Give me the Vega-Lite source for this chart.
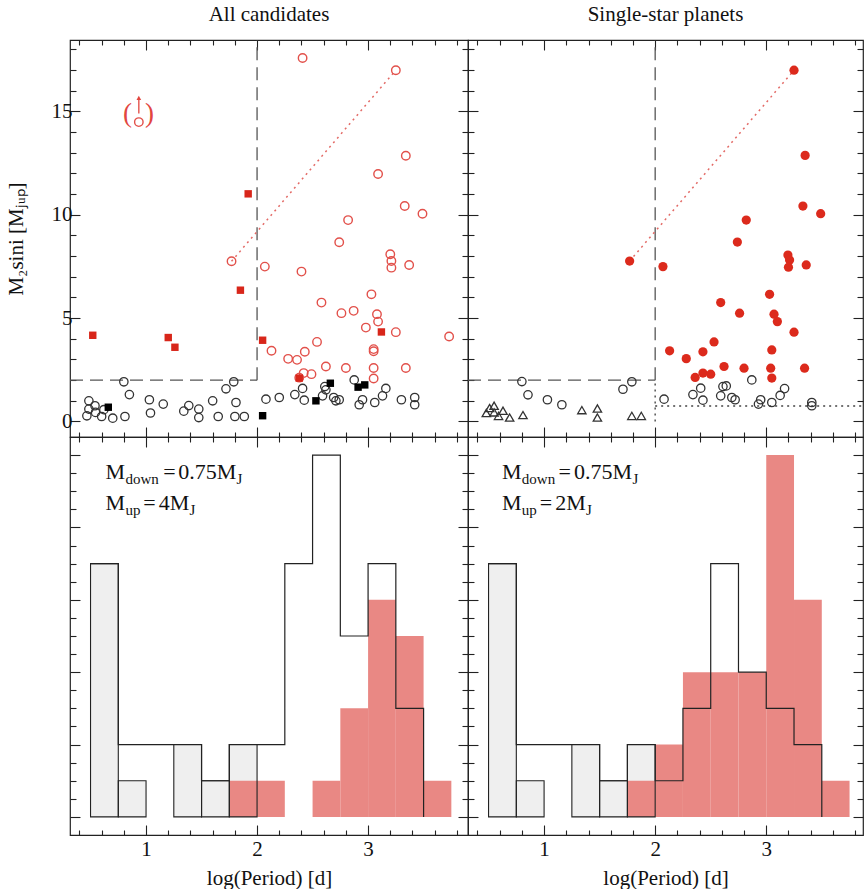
{
  "$schema": "https://vega.github.io/schema/vega-lite/v6.json",
  "padding": {"left": 4, "top": 3, "right": 0, "bottom": 0},
  "bounds": "flush",
  "spacing": 0,
  "columns": 2,
  "config": {
    "font": "Liberation Serif",
    "view": {"stroke": "#222", "strokeWidth": 1.2},
    "axis": {"domain": false, "grid": false, "tickColor": "#222", "tickWidth": 1.1, "labelFont": "Liberation Serif", "labelFontSize": 21, "labelColor": "#111", "titleFont": "Liberation Serif", "titleFontSize": 21, "titleFontWeight": "normal", "titleColor": "#111"},
    "title": {"font": "Liberation Serif", "fontSize": 21, "fontWeight": "normal", "color": "#111"}
  },
  "datasets": {
    "tl": [
      {"x": 2.41, "m": 17.58, "c": "ro"}, {"x": 3.25, "m": 16.99, "c": "ro"}, {"x": 0.935, "m": 14.48, "c": "ro"}, {"x": 3.34, "m": 12.85, "c": "ro"},
      {"x": 3.09, "m": 11.97, "c": "ro"}, {"x": 3.33, "m": 10.42, "c": "ro"}, {"x": 3.49, "m": 10.05, "c": "ro"}, {"x": 2.82, "m": 9.74, "c": "ro"},
      {"x": 2.74, "m": 8.67, "c": "ro"}, {"x": 1.77, "m": 7.75, "c": "ro"}, {"x": 3.2, "m": 8.09, "c": "ro"}, {"x": 3.21, "m": 7.76, "c": "ro"},
      {"x": 3.21, "m": 7.44, "c": "ro"}, {"x": 3.37, "m": 7.57, "c": "ro"}, {"x": 2.07, "m": 7.49, "c": "ro"}, {"x": 2.4, "m": 7.25, "c": "ro"},
      {"x": 2.58, "m": 5.75, "c": "ro"}, {"x": 3.03, "m": 6.15, "c": "ro"}, {"x": 2.76, "m": 5.24, "c": "ro"}, {"x": 2.87, "m": 5.35, "c": "ro"},
      {"x": 3.08, "m": 5.19, "c": "ro"}, {"x": 3.09, "m": 4.83, "c": "ro"}, {"x": 2.98, "m": 4.54, "c": "ro"}, {"x": 3.25, "m": 4.32, "c": "ro"},
      {"x": 3.73, "m": 4.11, "c": "ro"}, {"x": 2.54, "m": 3.85, "c": "ro"}, {"x": 2.13, "m": 3.42, "c": "ro"}, {"x": 2.43, "m": 3.37, "c": "ro"},
      {"x": 3.05, "m": 3.5, "c": "ro"}, {"x": 3.05, "m": 3.4, "c": "ro"}, {"x": 2.28, "m": 3.03, "c": "ro"}, {"x": 2.36, "m": 2.98, "c": "ro"},
      {"x": 2.42, "m": 2.34, "c": "ro"}, {"x": 2.49, "m": 2.29, "c": "ro"}, {"x": 2.62, "m": 2.66, "c": "ro"}, {"x": 2.8, "m": 2.59, "c": "ro"},
      {"x": 3.05, "m": 2.59, "c": "ro"}, {"x": 3.05, "m": 2.08, "c": "ro"}, {"x": 3.34, "m": 2.59, "c": "ro"}, {"x": 2.38, "m": 2.12, "c": "ro"},
      {"x": 0.52, "m": 4.17, "c": "rs"}, {"x": 1.2, "m": 4.06, "c": "rs"}, {"x": 1.26, "m": 3.59, "c": "rs"}, {"x": 1.92, "m": 11.01, "c": "rs"},
      {"x": 1.85, "m": 6.35, "c": "rs"}, {"x": 2.05, "m": 3.93, "c": "rs"}, {"x": 3.12, "m": 4.33, "c": "rs"}, {"x": 2.38, "m": 2.1, "c": "rs"},
      {"x": 0.66, "m": 0.69, "c": "bs"}, {"x": 2.05, "m": 0.28, "c": "bs"}, {"x": 2.53, "m": 1.0, "c": "bs"}, {"x": 2.66, "m": 1.85, "c": "bs"},
      {"x": 2.91, "m": 1.66, "c": "bs"}, {"x": 2.97, "m": 1.77, "c": "bs"},
      {"x": 0.485, "m": 1.0, "c": "bo"}, {"x": 0.467, "m": 0.275, "c": "bo"}, {"x": 0.485, "m": 0.6, "c": "bo"}, {"x": 0.54, "m": 0.76, "c": "bo"},
      {"x": 0.545, "m": 0.44, "c": "bo"}, {"x": 0.6, "m": 0.24, "c": "bo"}, {"x": 0.62, "m": 0.57, "c": "bo"}, {"x": 0.7, "m": 0.16, "c": "bo"},
      {"x": 0.8, "m": 1.92, "c": "bo"}, {"x": 0.81, "m": 0.24, "c": "bo"}, {"x": 0.85, "m": 1.3, "c": "bo"}, {"x": 1.03, "m": 1.05, "c": "bo"},
      {"x": 1.04, "m": 0.41, "c": "bo"}, {"x": 1.155, "m": 0.84, "c": "bo"}, {"x": 1.34, "m": 0.5, "c": "bo"}, {"x": 1.385, "m": 0.77, "c": "bo"},
      {"x": 1.475, "m": 0.6, "c": "bo"}, {"x": 1.475, "m": 0.19, "c": "bo"}, {"x": 1.6, "m": 1.0, "c": "bo"}, {"x": 1.65, "m": 0.24, "c": "bo"},
      {"x": 1.72, "m": 1.58, "c": "bo"}, {"x": 1.79, "m": 1.92, "c": "bo"}, {"x": 1.8, "m": 0.24, "c": "bo"}, {"x": 1.81, "m": 0.92, "c": "bo"},
      {"x": 1.885, "m": 0.24, "c": "bo"}, {"x": 2.08, "m": 1.08, "c": "bo"}, {"x": 2.2, "m": 1.16, "c": "bo"}, {"x": 2.34, "m": 1.3, "c": "bo"},
      {"x": 2.41, "m": 1.6, "c": "bo"}, {"x": 2.425, "m": 1.03, "c": "bo"}, {"x": 2.59, "m": 1.24, "c": "bo"}, {"x": 2.61, "m": 1.69, "c": "bo"},
      {"x": 2.62, "m": 1.53, "c": "bo"}, {"x": 2.69, "m": 1.16, "c": "bo"}, {"x": 2.71, "m": 1.0, "c": "bo"}, {"x": 2.74, "m": 1.05, "c": "bo"},
      {"x": 2.875, "m": 2.01, "c": "bo"}, {"x": 2.92, "m": 0.81, "c": "bo"}, {"x": 2.95, "m": 1.05, "c": "bo"}, {"x": 3.06, "m": 0.92, "c": "bo"},
      {"x": 3.13, "m": 1.24, "c": "bo"}, {"x": 3.16, "m": 1.6, "c": "bo"}, {"x": 3.3, "m": 1.05, "c": "bo"}, {"x": 3.42, "m": 1.16, "c": "bo"},
      {"x": 3.42, "m": 0.81, "c": "bo"}
    ],
    "tr": [
      {"x": 3.25, "m": 16.99, "c": "rf"}, {"x": 3.35, "m": 12.87, "c": "rf"}, {"x": 3.33, "m": 10.42, "c": "rf"}, {"x": 3.49, "m": 10.05, "c": "rf"},
      {"x": 2.82, "m": 9.74, "c": "rf"}, {"x": 2.74, "m": 8.68, "c": "rf"}, {"x": 1.77, "m": 7.76, "c": "rf"}, {"x": 2.07, "m": 7.49, "c": "rf"},
      {"x": 3.195, "m": 8.05, "c": "rf"}, {"x": 3.21, "m": 7.81, "c": "rf"}, {"x": 3.2, "m": 7.46, "c": "rf"}, {"x": 3.36, "m": 7.57, "c": "rf"},
      {"x": 2.59, "m": 5.75, "c": "rf"}, {"x": 3.03, "m": 6.15, "c": "rf"}, {"x": 2.76, "m": 5.24, "c": "rf"}, {"x": 3.07, "m": 5.19, "c": "rf"},
      {"x": 3.1, "m": 4.83, "c": "rf"}, {"x": 3.25, "m": 4.32, "c": "rf"}, {"x": 2.53, "m": 3.85, "c": "rf"}, {"x": 2.13, "m": 3.42, "c": "rf"},
      {"x": 2.43, "m": 3.37, "c": "rf"}, {"x": 3.05, "m": 3.46, "c": "rf"}, {"x": 2.28, "m": 3.04, "c": "rf"}, {"x": 2.62, "m": 2.66, "c": "rf"},
      {"x": 2.8, "m": 2.58, "c": "rf"}, {"x": 3.04, "m": 2.58, "c": "rf"}, {"x": 3.345, "m": 2.58, "c": "rf"}, {"x": 2.36, "m": 2.13, "c": "rf"},
      {"x": 2.43, "m": 2.34, "c": "rf"}, {"x": 2.5, "m": 2.29, "c": "rf"}, {"x": 3.05, "m": 2.1, "c": "rf"},
      {"x": 0.8, "m": 1.93, "c": "bo"}, {"x": 0.855, "m": 1.29, "c": "bo"}, {"x": 1.03, "m": 1.05, "c": "bo"}, {"x": 1.16, "m": 0.81, "c": "bo"},
      {"x": 1.71, "m": 1.56, "c": "bo"}, {"x": 1.79, "m": 1.92, "c": "bo"}, {"x": 2.08, "m": 1.08, "c": "bo"}, {"x": 2.34, "m": 1.3, "c": "bo"},
      {"x": 2.41, "m": 1.61, "c": "bo"}, {"x": 2.43, "m": 1.03, "c": "bo"}, {"x": 2.59, "m": 1.24, "c": "bo"}, {"x": 2.61, "m": 1.69, "c": "bo"},
      {"x": 2.64, "m": 1.72, "c": "bo"}, {"x": 2.69, "m": 1.16, "c": "bo"}, {"x": 2.72, "m": 1.05, "c": "bo"}, {"x": 2.87, "m": 2.01, "c": "bo"},
      {"x": 2.93, "m": 0.84, "c": "bo"}, {"x": 2.95, "m": 1.05, "c": "bo"}, {"x": 3.05, "m": 0.92, "c": "bo"}, {"x": 3.125, "m": 1.26, "c": "bo"},
      {"x": 3.165, "m": 1.59, "c": "bo"}, {"x": 3.41, "m": 0.92, "c": "bo"}, {"x": 3.41, "m": 0.76, "c": "bo"},
      {"x": 0.48, "m": 0.41, "c": "bt"}, {"x": 0.51, "m": 0.65, "c": "bt"}, {"x": 0.55, "m": 0.76, "c": "bt"}, {"x": 0.55, "m": 0.44, "c": "bt"},
      {"x": 0.59, "m": 0.27, "c": "bt"}, {"x": 0.63, "m": 0.52, "c": "bt"}, {"x": 0.69, "m": 0.19, "c": "bt"}, {"x": 0.81, "m": 0.31, "c": "bt"},
      {"x": 1.34, "m": 0.55, "c": "bt"}, {"x": 1.48, "m": 0.63, "c": "bt"}, {"x": 1.48, "m": 0.19, "c": "bt"}, {"x": 1.79, "m": 0.27, "c": "bt"},
      {"x": 1.875, "m": 0.27, "c": "bt"}
    ],
    "hl": [
      {"b0": 0.5, "b1": 0.75, "tot": 7, "dot": 7, "red": 0},
      {"b0": 0.75, "b1": 1.0, "tot": 2, "dot": 1, "red": 0},
      {"b0": 1.0, "b1": 1.25, "tot": 2, "dot": 0, "red": 0},
      {"b0": 1.25, "b1": 1.5, "tot": 2, "dot": 2, "red": 0},
      {"b0": 1.5, "b1": 1.75, "tot": 1, "dot": 1, "red": 0},
      {"b0": 1.75, "b1": 2.0, "tot": 2, "dot": 2, "red": 1},
      {"b0": 2.0, "b1": 2.25, "tot": 2, "dot": 0, "red": 1},
      {"b0": 2.25, "b1": 2.5, "tot": 7, "dot": 0, "red": 0},
      {"b0": 2.5, "b1": 2.75, "tot": 10, "dot": 0, "red": 1},
      {"b0": 2.75, "b1": 3.0, "tot": 5, "dot": 0, "red": 3},
      {"b0": 3.0, "b1": 3.25, "tot": 7, "dot": 0, "red": 6},
      {"b0": 3.25, "b1": 3.5, "tot": 3, "dot": 0, "red": 5},
      {"b0": 3.5, "b1": 3.75, "tot": 0, "dot": 0, "red": 1}
    ],
    "hr": [
      {"b0": 0.5, "b1": 0.75, "tot": 7, "dot": 7, "red": 0},
      {"b0": 0.75, "b1": 1.0, "tot": 2, "dot": 1, "red": 0},
      {"b0": 1.0, "b1": 1.25, "tot": 2, "dot": 0, "red": 0},
      {"b0": 1.25, "b1": 1.5, "tot": 2, "dot": 2, "red": 0},
      {"b0": 1.5, "b1": 1.75, "tot": 1, "dot": 1, "red": 0},
      {"b0": 1.75, "b1": 2.0, "tot": 2, "dot": 2, "red": 1},
      {"b0": 2.0, "b1": 2.25, "tot": 1, "dot": 0, "red": 2},
      {"b0": 2.25, "b1": 2.5, "tot": 3, "dot": 0, "red": 4},
      {"b0": 2.5, "b1": 2.75, "tot": 7, "dot": 0, "red": 4},
      {"b0": 2.75, "b1": 3.0, "tot": 4, "dot": 0, "red": 4},
      {"b0": 3.0, "b1": 3.25, "tot": 3, "dot": 0, "red": 10},
      {"b0": 3.25, "b1": 3.5, "tot": 2, "dot": 0, "red": 6},
      {"b0": 3.5, "b1": 3.75, "tot": 0, "dot": 0, "red": 1}
    ]
  },
  "concat": [
    {
      "width": 398,
      "height": 397,
      "title": {"text": "All candidates", "offset": 14},
      "layer": [
        {
          "data": {"values": [{"x": 0.315, "x2": 2, "y": 2}]},
          "mark": {"type": "rule", "strokeDash": [13, 7], "color": "#555", "strokeWidth": 1.3},
          "encoding": {
            "x": {"field": "x", "type": "quantitative", "scale": {"domain": [0.315, 3.9], "nice": false, "zero": false},
              "axis": {"orient": "bottom", "values": [0.4,0.6,0.8,1,1.2,1.4,1.6,1.8,2,2.2,2.4,2.6,2.8,3,3.2,3.4,3.6,3.8], "labels": false, "title": null,
                "tickSize": {"condition": {"test": "abs(datum.value - round(datum.value)) < 0.01", "value": -10}, "value": -5}}},
            "x2": {"field": "x2"},
            "y": {"field": "y", "type": "quantitative", "scale": {"domain": [-0.75, 18.45], "nice": false, "zero": false},
              "axis": {"orient": "left", "values": [0,1,2,3,4,5,6,7,8,9,10,11,12,13,14,15,16,17,18], "title": "M₂sini [Mⱼᵤₚ]",
                "labelExpr": "datum.value % 5 === 0 ? datum.label : ''", "labelPadding": 8, "titlePadding": 25,
                "tickSize": {"condition": {"test": "datum.value % 5 === 0", "value": -10}, "value": -6}}}
          }
        },
        {
          "data": {"values": [{"x": 2, "y": 2, "y2": 18.45}]},
          "mark": {"type": "rule", "strokeDash": [13, 7], "color": "#555", "strokeWidth": 1.3},
          "encoding": {
            "x": {"field": "x", "type": "quantitative",
              "axis": {"orient": "top", "values": [0.4,0.6,0.8,1,1.2,1.4,1.6,1.8,2,2.2,2.4,2.6,2.8,3,3.2,3.4,3.6,3.8], "labels": false, "title": null,
                "tickSize": {"condition": {"test": "abs(datum.value - round(datum.value)) < 0.01", "value": -10}, "value": -5}}},
            "y": {"field": "y", "type": "quantitative",
              "axis": {"orient": "right", "values": [0,1,2,3,4,5,6,7,8,9,10,11,12,13,14,15,16,17,18], "labels": false, "title": null,
                "tickSize": {"condition": {"test": "datum.value % 5 === 0", "value": -10}, "value": -6}}},
            "y2": {"field": "y2"}
          }
        },
        {
          "data": {"values": [{"x": 1.77, "y": 7.75, "x2": 3.25, "y2": 16.99}]},
          "mark": {"type": "rule", "strokeDash": [2, 4], "color": "#e36a66", "strokeWidth": 1.5},
          "encoding": {"x": {"field": "x", "type": "quantitative", "axis": null}, "x2": {"field": "x2"}, "y": {"field": "y", "type": "quantitative", "axis": null}, "y2": {"field": "y2"}}
        },
        {
          "data": {"values": [{"x": 0.935, "y": 14.9, "y2": 15.6}]},
          "mark": {"type": "rule", "color": "#e2463f", "strokeWidth": 1.3},
          "encoding": {"x": {"field": "x", "type": "quantitative", "axis": null}, "y": {"field": "y", "type": "quantitative", "axis": null}, "y2": {"field": "y2"}}
        },
        {
          "data": {"values": [{"x": 0.935, "y": 15.65}]},
          "mark": {"type": "point", "shape": "triangle-up", "filled": true, "color": "#e2463f", "size": 22, "opacity": 1},
          "encoding": {"x": {"field": "x", "type": "quantitative", "axis": null}, "y": {"field": "y", "type": "quantitative", "axis": null}}
        },
        {
          "data": {"values": [{"x": 0.834, "y": 14.86, "t": "("}, {"x": 1.03, "y": 14.86, "t": ")"}]},
          "mark": {"type": "text", "fontSize": 27, "color": "#e2463f", "baseline": "middle", "align": "center", "font": "Liberation Serif"},
          "encoding": {"x": {"field": "x", "type": "quantitative", "axis": null}, "y": {"field": "y", "type": "quantitative", "axis": null}, "text": {"field": "t"}}
        },
        {
          "data": {"name": "tl"},
          "transform": [{"filter": "datum.c === 'bo'"}],
          "mark": {"type": "point", "shape": "circle", "filled": false, "stroke": "#333", "strokeWidth": 1.3, "size": 70, "opacity": 1},
          "encoding": {"x": {"field": "x", "type": "quantitative", "axis": null}, "y": {"field": "m", "type": "quantitative", "axis": null}}
        },
        {
          "data": {"name": "tl"},
          "transform": [{"filter": "datum.c === 'ro'"}],
          "mark": {"type": "point", "shape": "circle", "filled": false, "stroke": "#e2504a", "strokeWidth": 1.4, "size": 72, "opacity": 1},
          "encoding": {"x": {"field": "x", "type": "quantitative", "axis": null}, "y": {"field": "m", "type": "quantitative", "axis": null}}
        },
        {
          "data": {"name": "tl"},
          "transform": [{"filter": "datum.c === 'bs'"}],
          "mark": {"type": "point", "shape": "square", "filled": true, "color": "#000", "size": 55, "opacity": 1},
          "encoding": {"x": {"field": "x", "type": "quantitative", "axis": null}, "y": {"field": "m", "type": "quantitative", "axis": null}}
        },
        {
          "data": {"name": "tl"},
          "transform": [{"filter": "datum.c === 'rs'"}],
          "mark": {"type": "point", "shape": "square", "filled": true, "color": "#d8261a", "size": 55, "opacity": 1},
          "encoding": {"x": {"field": "x", "type": "quantitative", "axis": null}, "y": {"field": "m", "type": "quantitative", "axis": null}}
        }
      ]
    },
    {
      "width": 395,
      "height": 397,
      "title": {"text": "Single-star planets", "offset": 14},
      "layer": [
        {
          "data": {"values": [{"x": 0.315, "x2": 2, "y": 2}]},
          "mark": {"type": "rule", "strokeDash": [13, 7], "color": "#555", "strokeWidth": 1.3},
          "encoding": {
            "x": {"field": "x", "type": "quantitative", "scale": {"domain": [0.315, 3.871], "nice": false, "zero": false},
              "axis": {"orient": "bottom", "values": [0.4,0.6,0.8,1,1.2,1.4,1.6,1.8,2,2.2,2.4,2.6,2.8,3,3.2,3.4,3.6,3.8], "labels": false, "title": null,
                "tickSize": {"condition": {"test": "abs(datum.value - round(datum.value)) < 0.01", "value": -10}, "value": -5}}},
            "x2": {"field": "x2"},
            "y": {"field": "y", "type": "quantitative", "scale": {"domain": [-0.75, 18.45], "nice": false, "zero": false},
              "axis": {"orient": "left", "values": [0,1,2,3,4,5,6,7,8,9,10,11,12,13,14,15,16,17,18], "labels": false, "title": null,
                "tickSize": {"condition": {"test": "datum.value % 5 === 0", "value": -10}, "value": -6}}}
          }
        },
        {
          "data": {"values": [{"x": 2, "y": 2, "y2": 18.45}]},
          "mark": {"type": "rule", "strokeDash": [13, 7], "color": "#555", "strokeWidth": 1.3},
          "encoding": {
            "x": {"field": "x", "type": "quantitative",
              "axis": {"orient": "top", "values": [0.4,0.6,0.8,1,1.2,1.4,1.6,1.8,2,2.2,2.4,2.6,2.8,3,3.2,3.4,3.6,3.8], "labels": false, "title": null,
                "tickSize": {"condition": {"test": "abs(datum.value - round(datum.value)) < 0.01", "value": -10}, "value": -5}}},
            "y": {"field": "y", "type": "quantitative",
              "axis": {"orient": "right", "values": [0,1,2,3,4,5,6,7,8,9,10,11,12,13,14,15,16,17,18], "labels": false, "title": null,
                "tickSize": {"condition": {"test": "datum.value % 5 === 0", "value": -10}, "value": -6}}},
            "y2": {"field": "y2"}
          }
        },
        {
          "data": {"values": [{"x": 2, "y": 0, "y2": 1.9}]},
          "mark": {"type": "rule", "strokeDash": [2, 4], "color": "#555", "strokeWidth": 1.5},
          "encoding": {"x": {"field": "x", "type": "quantitative", "axis": null}, "y": {"field": "y", "type": "quantitative", "axis": null}, "y2": {"field": "y2"}}
        },
        {
          "data": {"values": [{"x": 2, "y": 0.75, "x2": 3.871}]},
          "mark": {"type": "rule", "strokeDash": [2, 4], "color": "#444", "strokeWidth": 1.6},
          "encoding": {"x": {"field": "x", "type": "quantitative", "axis": null}, "x2": {"field": "x2"}, "y": {"field": "y", "type": "quantitative", "axis": null}}
        },
        {
          "data": {"values": [{"x": 1.77, "y": 7.76, "x2": 3.25, "y2": 16.99}]},
          "mark": {"type": "rule", "strokeDash": [2, 4], "color": "#e36a66", "strokeWidth": 1.5},
          "encoding": {"x": {"field": "x", "type": "quantitative", "axis": null}, "x2": {"field": "x2"}, "y": {"field": "y", "type": "quantitative", "axis": null}, "y2": {"field": "y2"}}
        },
        {
          "data": {"name": "tr"},
          "transform": [{"filter": "datum.c === 'bo'"}],
          "mark": {"type": "point", "shape": "circle", "filled": false, "stroke": "#333", "strokeWidth": 1.3, "size": 70, "opacity": 1},
          "encoding": {"x": {"field": "x", "type": "quantitative", "axis": null}, "y": {"field": "m", "type": "quantitative", "axis": null}}
        },
        {
          "data": {"name": "tr"},
          "transform": [{"filter": "datum.c === 'bt'"}],
          "mark": {"type": "point", "shape": "triangle-up", "filled": false, "stroke": "#333", "strokeWidth": 1.3, "size": 70, "opacity": 1},
          "encoding": {"x": {"field": "x", "type": "quantitative", "axis": null}, "y": {"field": "m", "type": "quantitative", "axis": null}}
        },
        {
          "data": {"name": "tr"},
          "transform": [{"filter": "datum.c === 'rf'"}],
          "mark": {"type": "point", "shape": "circle", "filled": true, "color": "#dc2a1c", "size": 85, "opacity": 1},
          "encoding": {"x": {"field": "x", "type": "quantitative", "axis": null}, "y": {"field": "m", "type": "quantitative", "axis": null}}
        }
      ]
    },
    {
      "width": 398,
      "height": 398,
      "layer": [
        {
          "data": {"name": "hl"},
          "transform": [{"filter": "datum.dot > 0"}],
          "mark": {"type": "rect", "fill": "#efefef"},
          "encoding": {
            "x": {"field": "b0", "type": "quantitative", "scale": {"domain": [0.315, 3.9], "nice": false, "zero": false},
              "axis": {"orient": "bottom", "values": [0.4,0.6,0.8,1,1.2,1.4,1.6,1.8,2,2.2,2.4,2.6,2.8,3,3.2,3.4,3.6,3.8], "title": "log(Period) [d]",
                "labelExpr": "abs(datum.value - round(datum.value)) < 0.01 ? '' + round(datum.value) : ''", "labelPadding": 13, "titlePadding": 8,
                "tickSize": {"condition": {"test": "abs(datum.value - round(datum.value)) < 0.01", "value": -10}, "value": -5}}},
            "x2": {"field": "b1"},
            "y": {"field": "dot", "type": "quantitative", "scale": {"domain": [-0.5, 10.5], "nice": false, "zero": false},
              "axis": {"orient": "left", "values": [0,0.5,1,1.5,2,2.5,3,3.5,4,4.5,5,5.5,6,6.5,7,7.5,8,8.5,9,9.5,10], "labels": false, "title": null,
                "tickSize": {"condition": {"test": "datum.value % 2 === 0", "value": -10}, "value": -6}}},
            "y2": {"datum": 0}
          }
        },
        {
          "data": {"name": "hl"},
          "transform": [{"filter": "datum.red > 0"}],
          "mark": {"type": "rect", "fill": "#e98884"},
          "encoding": {"x": {"field": "b0", "type": "quantitative", "axis": null}, "x2": {"field": "b1"}, "y": {"field": "red", "type": "quantitative", "axis": null}, "y2": {"datum": 0}}
        },
        {
          "data": {"name": "hl"},
          "transform": [{"filter": "datum.dot > 0"}],
          "mark": {"type": "rect", "fill": "transparent", "stroke": "#222", "strokeWidth": 1.1},
          "encoding": {"x": {"field": "b0", "type": "quantitative", "axis": null}, "x2": {"field": "b1"}, "y": {"field": "dot", "type": "quantitative", "axis": null}, "y2": {"datum": 0}}
        },
        {
          "data": {"name": "hl"},
          "mark": {"type": "line", "interpolate": "step-after", "color": "#222", "strokeWidth": 1.2},
          "encoding": {
            "x": {"field": "b0", "type": "quantitative",
              "axis": {"orient": "top", "values": [0.4,0.6,0.8,1,1.2,1.4,1.6,1.8,2,2.2,2.4,2.6,2.8,3,3.2,3.4,3.6,3.8], "labels": false, "title": null,
                "tickSize": {"condition": {"test": "abs(datum.value - round(datum.value)) < 0.01", "value": -10}, "value": -5}}},
            "y": {"field": "tot", "type": "quantitative",
              "axis": {"orient": "right", "values": [0,0.5,1,1.5,2,2.5,3,3.5,4,4.5,5,5.5,6,6.5,7,7.5,8,8.5,9,9.5,10], "labels": false, "title": null,
                "tickSize": {"condition": {"test": "datum.value % 2 === 0", "value": -10}, "value": -6}}}
          }
        },
        {
          "mark": {"type": "rule", "color": "#222", "strokeWidth": 1.2},
          "encoding": {"y": {"datum": 0, "type": "quantitative", "axis": null}}
        },
        {
          "data": {"values": [{"x": 0.635, "y": 9.34, "t": "M"}, {"x": 1.155, "y": 9.34, "t": "="}, {"x": 1.29, "y": 9.34, "t": "0.75M"},
                              {"x": 0.635, "y": 8.48, "t": "M"}, {"x": 0.975, "y": 8.48, "t": "="}, {"x": 1.114, "y": 8.48, "t": "4M"}]},
          "mark": {"type": "text", "fontSize": 22, "align": "left", "baseline": "alphabetic", "color": "#111", "font": "Liberation Serif"},
          "encoding": {"x": {"field": "x", "type": "quantitative", "axis": null}, "y": {"field": "y", "type": "quantitative", "axis": null}, "text": {"field": "t"}}
        },
        {
          "data": {"values": [{"x": 0.815, "y": 9.34, "t": "down"}, {"x": 1.815, "y": 9.34, "t": "J"},
                              {"x": 0.815, "y": 8.48, "t": "up"}, {"x": 1.392, "y": 8.48, "t": "J"}]},
          "mark": {"type": "text", "fontSize": 15, "align": "left", "baseline": "alphabetic", "dy": 5, "color": "#111", "font": "Liberation Serif"},
          "encoding": {"x": {"field": "x", "type": "quantitative", "axis": null}, "y": {"field": "y", "type": "quantitative", "axis": null}, "text": {"field": "t"}}
        }
      ]
    },
    {
      "width": 395,
      "height": 398,
      "layer": [
        {
          "data": {"name": "hr"},
          "transform": [{"filter": "datum.dot > 0"}],
          "mark": {"type": "rect", "fill": "#efefef"},
          "encoding": {
            "x": {"field": "b0", "type": "quantitative", "scale": {"domain": [0.315, 3.871], "nice": false, "zero": false},
              "axis": {"orient": "bottom", "values": [0.4,0.6,0.8,1,1.2,1.4,1.6,1.8,2,2.2,2.4,2.6,2.8,3,3.2,3.4,3.6,3.8], "title": "log(Period) [d]",
                "labelExpr": "abs(datum.value - round(datum.value)) < 0.01 ? '' + round(datum.value) : ''", "labelPadding": 13, "titlePadding": 8,
                "tickSize": {"condition": {"test": "abs(datum.value - round(datum.value)) < 0.01", "value": -10}, "value": -5}}},
            "x2": {"field": "b1"},
            "y": {"field": "dot", "type": "quantitative", "scale": {"domain": [-0.5, 10.5], "nice": false, "zero": false},
              "axis": {"orient": "left", "values": [0,0.5,1,1.5,2,2.5,3,3.5,4,4.5,5,5.5,6,6.5,7,7.5,8,8.5,9,9.5,10], "labels": false, "title": null,
                "tickSize": {"condition": {"test": "datum.value % 2 === 0", "value": -10}, "value": -6}}},
            "y2": {"datum": 0}
          }
        },
        {
          "data": {"name": "hr"},
          "transform": [{"filter": "datum.red > 0"}],
          "mark": {"type": "rect", "fill": "#e98884"},
          "encoding": {"x": {"field": "b0", "type": "quantitative", "axis": null}, "x2": {"field": "b1"}, "y": {"field": "red", "type": "quantitative", "axis": null}, "y2": {"datum": 0}}
        },
        {
          "data": {"name": "hr"},
          "transform": [{"filter": "datum.dot > 0"}],
          "mark": {"type": "rect", "fill": "transparent", "stroke": "#222", "strokeWidth": 1.1},
          "encoding": {"x": {"field": "b0", "type": "quantitative", "axis": null}, "x2": {"field": "b1"}, "y": {"field": "dot", "type": "quantitative", "axis": null}, "y2": {"datum": 0}}
        },
        {
          "data": {"name": "hr"},
          "mark": {"type": "line", "interpolate": "step-after", "color": "#222", "strokeWidth": 1.2},
          "encoding": {
            "x": {"field": "b0", "type": "quantitative",
              "axis": {"orient": "top", "values": [0.4,0.6,0.8,1,1.2,1.4,1.6,1.8,2,2.2,2.4,2.6,2.8,3,3.2,3.4,3.6,3.8], "labels": false, "title": null,
                "tickSize": {"condition": {"test": "abs(datum.value - round(datum.value)) < 0.01", "value": -10}, "value": -5}}},
            "y": {"field": "tot", "type": "quantitative",
              "axis": {"orient": "right", "values": [0,0.5,1,1.5,2,2.5,3,3.5,4,4.5,5,5.5,6,6.5,7,7.5,8,8.5,9,9.5,10], "labels": false, "title": null,
                "tickSize": {"condition": {"test": "datum.value % 2 === 0", "value": -10}, "value": -6}}}
          }
        },
        {
          "mark": {"type": "rule", "color": "#222", "strokeWidth": 1.2},
          "encoding": {"y": {"datum": 0, "type": "quantitative", "axis": null}}
        },
        {
          "data": {"values": [{"x": 0.62, "y": 9.34, "t": "M"}, {"x": 1.13, "y": 9.34, "t": "="}, {"x": 1.269, "y": 9.34, "t": "0.75M"},
                              {"x": 0.62, "y": 8.48, "t": "M"}, {"x": 0.96, "y": 8.48, "t": "="}, {"x": 1.1, "y": 8.48, "t": "2M"}]},
          "mark": {"type": "text", "fontSize": 22, "align": "left", "baseline": "alphabetic", "color": "#111", "font": "Liberation Serif"},
          "encoding": {"x": {"field": "x", "type": "quantitative", "axis": null}, "y": {"field": "y", "type": "quantitative", "axis": null}, "text": {"field": "t"}}
        },
        {
          "data": {"values": [{"x": 0.8, "y": 9.34, "t": "down"}, {"x": 1.795, "y": 9.34, "t": "J"},
                              {"x": 0.8, "y": 8.48, "t": "up"}, {"x": 1.378, "y": 8.48, "t": "J"}]},
          "mark": {"type": "text", "fontSize": 15, "align": "left", "baseline": "alphabetic", "dy": 5, "color": "#111", "font": "Liberation Serif"},
          "encoding": {"x": {"field": "x", "type": "quantitative", "axis": null}, "y": {"field": "y", "type": "quantitative", "axis": null}, "text": {"field": "t"}}
        }
      ]
    }
  ]
}
